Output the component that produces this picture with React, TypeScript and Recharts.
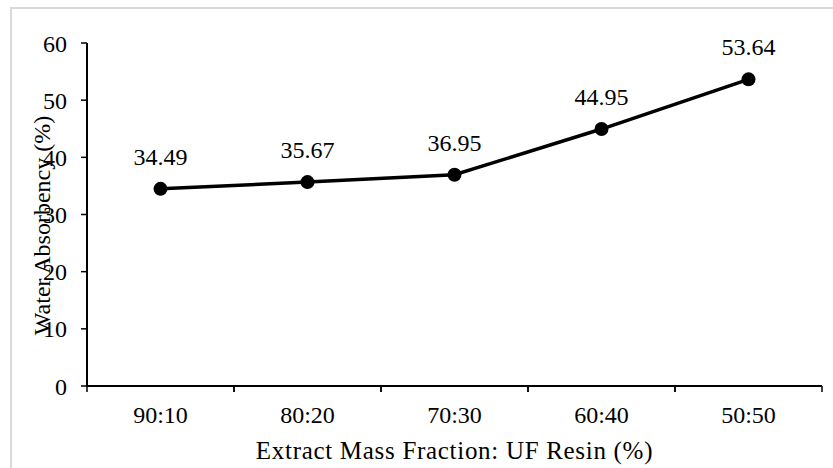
import { LineChart, Line, XAxis, YAxis, LabelList, Label } from 'recharts';

// extract : UF resin mass ratio
const ratios = ['90:10', '80:20', '70:30', '60:40', '50:50'];
// water absorbency, %
const absorbency = [34.49, 35.67, 36.95, 44.95, 53.64];
const yTicks = [0, 10, 20, 30, 40, 50, 60];

const data = ratios.map((ratio, i) => ({ ratio, value: absorbency[i] }));

const FONT = '"Liberation Serif", "Times New Roman", serif';
const TICK_SIZE = 6;

// category labels sit mid-band, tick marks go on the band edges
const CategoryTick = (props: any) => {
  const { x, y, payload, width, visibleTicksCount } = props;
  const half = payload.offset || width / visibleTicksCount / 2;
  const axisY = y - TICK_SIZE;
  return (
    <g>
      <line x1={x - half} x2={x - half} y1={axisY} y2={axisY + TICK_SIZE} stroke="#000" strokeWidth={1.5} />
      <line x1={x + half} x2={x + half} y1={axisY} y2={axisY + TICK_SIZE} stroke="#000" strokeWidth={1.5} />
      <text x={x} y={axisY + 37} textAnchor="middle" fill="#000" style={{ fontSize: 24, fontFamily: FONT }}>
        {payload.value}
      </text>
    </g>
  );
};

const YTitle = (props: any) => {
  const { viewBox } = props;
  const cx = viewBox.x + 23;
  const cy = viewBox.y + viewBox.height / 2 + 11;
  return (
    <text
      x={cx}
      y={cy}
      transform={`rotate(-90 ${cx} ${cy})`}
      textAnchor="middle"
      fill="#000"
      style={{ fontSize: 24, fontFamily: FONT }}
    >
      Water Absorbency (%)
    </text>
  );
};

export default function App() {
  return (
    <div style={{ position: 'absolute', left: 0, top: 0, width: 833, height: 468, overflow: 'hidden', background: '#fff' }}>
      <div
        style={{
          position: 'absolute',
          left: 10,
          top: 7,
          width: 900,
          height: 500,
          borderLeft: '2px solid #d9d9d9',
          borderTop: '2px solid #d9d9d9',
        }}
      />
      <LineChart
        width={833}
        height={468}
        data={data}
        margin={{ top: 43, right: 11, left: 27, bottom: 0 }}
        style={{ position: 'absolute', left: 0, top: 0, fontFamily: FONT }}
      >
        <XAxis
          dataKey="ratio"
          scale="band"
          height={82}
          tickLine={false}
          tickSize={TICK_SIZE}
          tickMargin={0}
          axisLine={{ stroke: '#000', strokeWidth: 2 }}
          tick={<CategoryTick />}
          interval={0}
        >
          <Label
            value="Extract Mass Fraction: UF Resin (%)"
            position="insideBottom"
            offset={9}
            style={{ fontSize: 25, fontFamily: FONT, fill: '#000', letterSpacing: 0.7 }}
          />
        </XAxis>
        <YAxis
          width={60}
          domain={[0, 60]}
          ticks={yTicks}
          interval={0}
          tickSize={TICK_SIZE}
          tickMargin={14}
          axisLine={{ stroke: '#000', strokeWidth: 2 }}
          tickLine={{ stroke: '#000', strokeWidth: 1.5 }}
          tick={{ fill: '#000', style: { fontSize: 24, fontFamily: FONT } }}
        >
          <Label content={<YTitle />} />
        </YAxis>
        <Line
          dataKey="value"
          stroke="#000"
          strokeWidth={3.5}
          dot={{ r: 7, fill: '#000', stroke: 'none' }}
          activeDot={false}
          isAnimationActive={false}
        >
          <LabelList
            dataKey="value"
            position="top"
            offset={24}
            style={{ fontSize: 24, fontFamily: FONT, fill: '#000' }}
          />
        </Line>
      </LineChart>
    </div>
  );
}
